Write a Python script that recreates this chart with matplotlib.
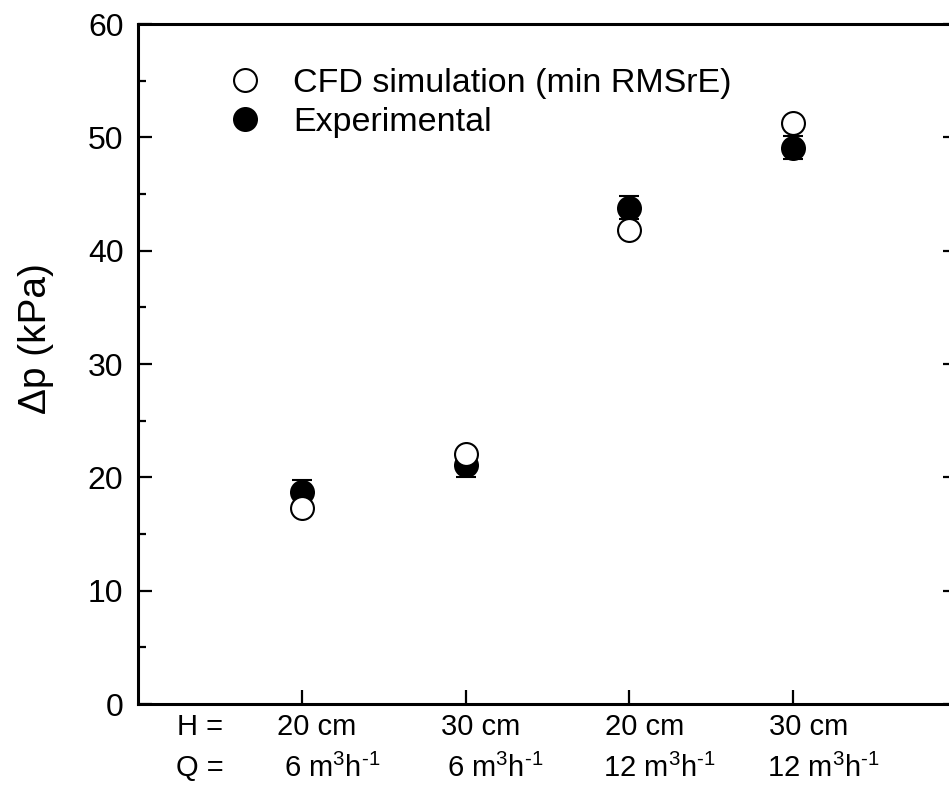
import matplotlib
matplotlib.use("Agg")
from matplotlib import pyplot as plt
from matplotlib.ticker import MultipleLocator
from matplotlib.transforms import blended_transform_factory, offset_copy

# cases along x: bed height H and flow rate Q
heights = ["20 cm", "30 cm", "20 cm", "30 cm"]
flows = ["6", "6", "12", "12"]
cases = [1, 2, 3, 4]

# pressure drop (kPa)
cfd = [17.3, 22.1, 41.8, 51.3]
exp = [18.7, 21.1, 43.8, 49.1]
exp_err = [1.05, 1.1, 1.0, 1.05]

plt.rcParams['font.family'] = ['Liberation Sans', 'DejaVu Sans']
plt.rcParams['mathtext.fontset'] = 'custom'
plt.rcParams['mathtext.rm'] = 'Liberation Sans'
plt.rcParams['mathtext.it'] = 'Liberation Sans'

fig = plt.figure(figsize=(9.49, 7.85), dpi=100)
ax = fig.add_axes([138 / 949, 81 / 785, 819 / 949, 680 / 785])

ax.errorbar(cases, exp, yerr=exp_err, fmt='none', ecolor='black',
            elinewidth=1.5, capsize=7, capthick=1.5, zorder=2)
l_exp, = ax.plot(cases, exp, 'o', ms=16.5, mfc='black', mec='black',
                 mew=1.5, ls='none', label='Experimental', zorder=3)
l_cfd, = ax.plot(cases, cfd, 'o', ms=16.5, mfc='white', mec='black',
                 mew=1.5, ls='none', label='CFD simulation (min RMSrE)', zorder=4)

ax.set_xlim(0, 5)
ax.set_ylim(0, 60)
ax.yaxis.set_major_locator(MultipleLocator(10))
ax.yaxis.set_minor_locator(MultipleLocator(5))
ax.set_xticks(cases)
ax.set_xticklabels([])
ax.tick_params(axis='y', which='both', direction='in', left=True, right=True,
               labelsize=23, pad=10.5, width=1.6)
ax.tick_params(axis='y', which='major', length=10)
ax.tick_params(axis='y', which='minor', length=5.8)
ax.tick_params(axis='x', direction='in', length=10, width=1.6, top=False)
for s in ax.spines.values():
    s.set_linewidth(2.2)

ax.set_ylabel('Δp (kPa)', fontsize=28)
ax.yaxis.set_label_coords(-0.102, 0.537)

# two-line category labels below the axis
tr = blended_transform_factory(ax.transData, ax.transAxes)
tr_h = offset_copy(tr, fig=fig, x=15, y=0, units='dots')
tr_q = offset_copy(tr, fig=fig, x=30, y=0, units='dots')
for x, h, q in zip(cases, heights, flows):
    ax.text(x, -0.034, h, transform=tr_h, ha='center', va='center', fontsize=21)
    ax.text(x, -0.094, q + ' m$^{3}$h$^{\u20101}$', transform=tr_q,
            ha='center', va='center', fontsize=21)
ax.text(0.38, -0.034, 'H =', transform=tr, ha='center', va='center', fontsize=21)
ax.text(0.38, -0.094, 'Q =', transform=tr, ha='center', va='center', fontsize=21)

ax.legend(handles=[l_cfd, l_exp], loc='upper left', bbox_to_anchor=(0.11, 0.936),
          frameon=False, fontsize=24.5, numpoints=1, handlelength=1.0,
          handletextpad=0.91, labelspacing=0.25, borderpad=0, borderaxespad=0)

fig.savefig('out.png', dpi=100)
